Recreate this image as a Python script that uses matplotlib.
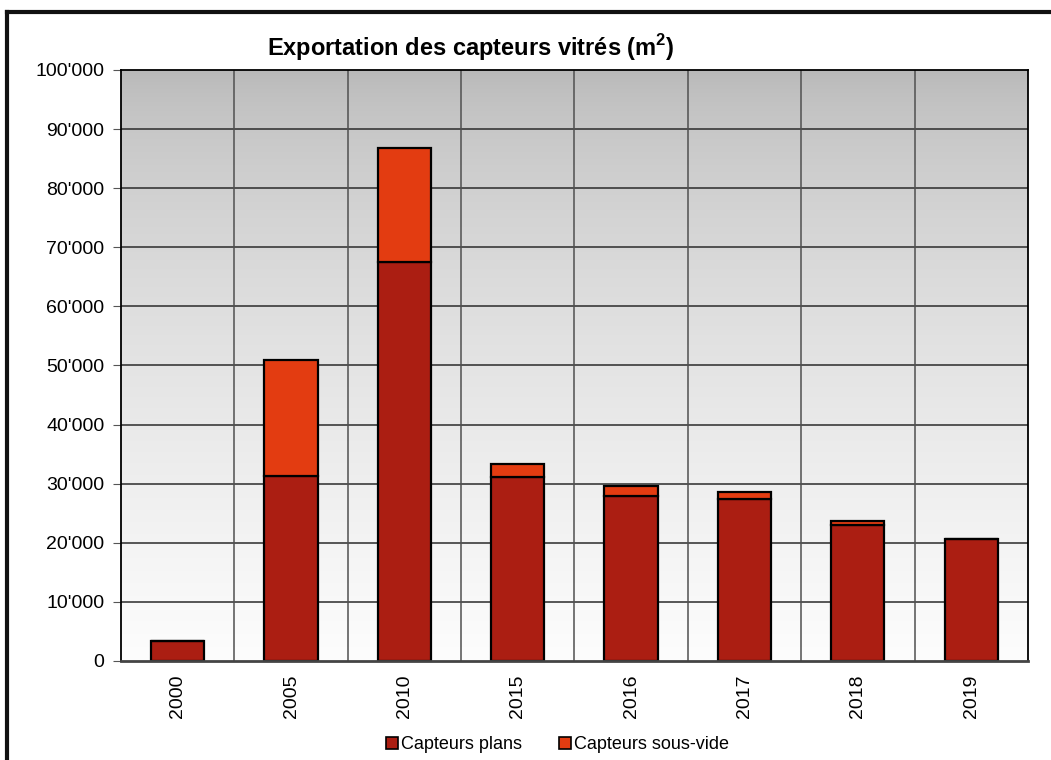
import numpy as np
import matplotlib
matplotlib.use("Agg")
from matplotlib import pyplot as plt
from matplotlib.lines import Line2D
from matplotlib.ticker import FuncFormatter

plt.rcParams['font.family'] = ['Liberation Sans', 'DejaVu Sans']
plt.rcParams['mathtext.fontset'] = 'custom'
plt.rcParams['mathtext.rm'] = 'Liberation Sans'
plt.rcParams['mathtext.bf'] = 'Liberation Sans:bold'

years = ['2000', '2005', '2010', '2015', '2016', '2017', '2018', '2019']
plans = [3300, 31300, 67500, 31100, 27900, 27400, 23000, 20600]
sous_vide = [0, 19600, 19300, 2200, 1700, 1200, 700, 0]

col_plans = '#ab1e12'
col_sv = '#e33c11'

fig = plt.figure(figsize=(10.51, 7.60), dpi=100)
ax = fig.add_axes([0.1151, 0.1303, 0.978 - 0.1151, 0.9079 - 0.1303])

x = np.arange(len(years))
ax.set_xlim(-0.5, len(years) - 0.5)
ax.set_ylim(0, 100000)

# gradient background (grey top -> white bottom)
t = np.linspace(0, 1, 256) ** 0.65
grad = (184 + 69 * t)[:, None] / 255.0
ax.imshow(np.dstack([grad, grad, grad]), aspect='auto', zorder=0,
          extent=[-0.5, len(years) - 0.5, 0, 100000], origin='upper')

for yy in range(10000, 100000, 10000):
    ax.axhline(yy, color='#2b2b2b', lw=1.1, zorder=1)
for xb in np.arange(0.5, len(years) - 0.5, 1):
    ax.axvline(xb, color='#505050', lw=1.1, zorder=1)

w = 0.47
ax.bar(x, plans, w, color=col_plans, edgecolor='black', lw=1.6, zorder=2)
ax.bar(x, sous_vide, w, bottom=plans, color=col_sv, edgecolor='black',
       lw=1.6, zorder=2)

ax.set_xticks(x)
ax.set_xticklabels(years, rotation=90, fontsize=14)
ax.tick_params(axis='x', length=0, pad=10)
ax.set_yticks(range(0, 100001, 10000))
ax.yaxis.set_major_formatter(FuncFormatter(lambda v, p: f"{int(v):,}".replace(',', "'")))
ax.tick_params(axis='y', labelsize=14, length=6, color='#555555', pad=6)

for s in ['left', 'right', 'top']:
    ax.spines[s].set_color('black')
    ax.spines[s].set_linewidth(1.3)
ax.spines['bottom'].set_color('#444444')
ax.spines['bottom'].set_linewidth(2)

fig.text(0.448, 0.937, 'Exportation des capteurs vitrés (m$^\\mathbf{2}$)',
         ha='center', va='center', fontsize=17, fontweight='bold')

handles = [Line2D([], [], ls='', marker='s', ms=9, mfc=col_plans, mec='black', mew=1.2),
           Line2D([], [], ls='', marker='s', ms=9, mfc=col_sv, mec='black', mew=1.2)]
fig.legend(handles, ['Capteurs plans', 'Capteurs sous-vide'], loc='center',
           bbox_to_anchor=(0.529, 0.02), ncol=2, frameon=False, fontsize=13,
           handletextpad=0.0, columnspacing=1.9, handlelength=1.0)

# frame lines on left and top of the figure
fig.add_artist(Line2D([0.0067, 0.0067], [0, 0.984], color='#111111', lw=3,
                      transform=fig.transFigure))
fig.add_artist(Line2D([0.0067, 1.0], [0.984, 0.984], color='#111111', lw=3,
                      transform=fig.transFigure))

fig.savefig('out.png', dpi=100)
